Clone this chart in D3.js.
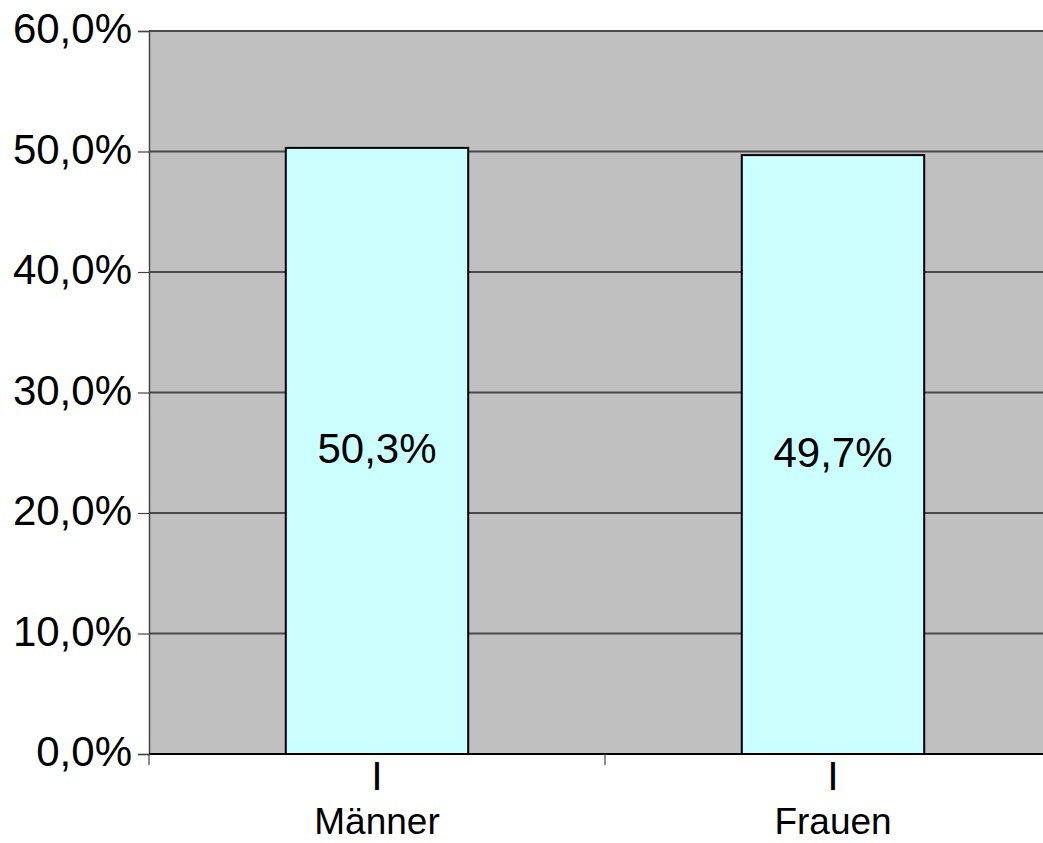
<!DOCTYPE html>
<html lang="de">
  <head>
    <meta charset="utf-8">
    <title>Männer / Frauen</title>
    <style>
      html, body { margin: 0; padding: 0; background: #fff; }
      svg { display: block; font-family: 'Liberation Sans', Arial, sans-serif; }
    </style>
  </head>
  <body>
    <svg width="1043" height="843"></svg>
    <script src="https://cdn.jsdelivr.net/npm/d3@7"></script>
    <script>
      // data
      const categories = ['Männer', 'Frauen'];
      const shares = [50.3, 49.7];
      const y_ticks = [0, 10, 20, 30, 40, 50, 60];

      const svg = d3.select('svg');
      const margin = {top: 31, left: 149, bottom: 754};
      const plot_right = 1061; // plot area runs past the window edge

      const fmt = v => v.toFixed(1).replace('.', ',') + '%';

      const x_scale = d3.scaleBand()
        .domain(categories)
        .range([margin.left, plot_right])
        .paddingInner(0.6)
        .paddingOuter(0.3);

      const y_scale = d3.scaleLinear()
        .domain([0, 60])
        .range([margin.bottom, margin.top]);

      // grey plot background
      svg.append('rect')
        .attr('x', margin.left)
        .attr('y', margin.top)
        .attr('width', plot_right - margin.left)
        .attr('height', margin.bottom - margin.top)
        .attr('fill', '#c0c0c0');

      // grid lines
      svg.append('g')
        .selectAll('line')
        .data(y_ticks.filter(d => d > 0))
        .enter()
        .append('line')
          .attr('x1', margin.left)
          .attr('x2', plot_right)
          .attr('y1', d => y_scale(d))
          .attr('y2', d => y_scale(d))
          .attr('stroke', '#4a4a4a')
          .attr('stroke-width', 1.8);

      // bars
      svg.append('g')
        .selectAll('rect')
        .data(shares)
        .enter()
        .append('rect')
          .attr('x', (d, i) => x_scale(categories[i]))
          .attr('y', d => y_scale(d))
          .attr('width', x_scale.bandwidth())
          .attr('height', d => y_scale(0) - y_scale(d))
          .attr('fill', '#ccffff')
          .attr('stroke', '#000')
          .attr('stroke-width', 2);

      // value labels inside bars
      svg.append('g')
        .selectAll('text')
        .data(shares)
        .enter()
        .append('text')
          .attr('x', (d, i) => x_scale(categories[i]) + x_scale.bandwidth() / 2)
          .attr('y', d => (y_scale(d) + y_scale(0)) / 2 + 12)
          .attr('text-anchor', 'middle')
          .attr('font-size', '42px')
          .attr('fill', '#000')
          .text(d => fmt(d));

      // y axis
      const y_axis = d3.axisLeft(y_scale)
        .tickValues(y_ticks)
        .tickSize(11)
        .tickPadding(6)
        .tickFormat(fmt);
      const y_axis_g = svg.append('g')
        .attr('transform', `translate(${margin.left},0)`)
        .call(y_axis);
      y_axis_g.select('.domain').attr('stroke', '#444').attr('stroke-width', 1.5);
      y_axis_g.selectAll('.tick line').attr('stroke', '#444').attr('stroke-width', 1.2);
      y_axis_g.selectAll('.tick text')
        .attr('font-size', '42px')
        .attr('font-family', "'Liberation Sans', Arial, sans-serif")
        .attr('fill', '#000')
        .attr('dy', '0.28em');

      // x axis line and band edge ticks
      svg.append('line')
        .attr('x1', margin.left)
        .attr('x2', plot_right)
        .attr('y1', margin.bottom)
        .attr('y2', margin.bottom)
        .attr('stroke', '#000')
        .attr('stroke-width', 2);
      svg.append('g')
        .selectAll('line')
        .data([0, 1])
        .enter()
        .append('line')
          .attr('x1', i => margin.left + i * x_scale.step())
          .attr('x2', i => margin.left + i * x_scale.step())
          .attr('y1', margin.bottom)
          .attr('y2', margin.bottom + 11)
          .attr('stroke', '#444')
          .attr('stroke-width', 1.2);

      // category labels (two lines: "I" then name)
      const cat_g = svg.append('g')
        .selectAll('text')
        .data(categories)
        .enter()
        .append('text')
          .attr('text-anchor', 'middle')
          .attr('font-size', '37px')
          .attr('fill', '#000');
      cat_g.append('tspan')
        .attr('x', d => x_scale(d) + x_scale.bandwidth() / 2)
        .attr('y', 790)
        .attr('font-size', '41px')
        .text('I');
      cat_g.append('tspan')
        .attr('x', d => x_scale(d) + x_scale.bandwidth() / 2)
        .attr('y', 834)
        .text(d => d);
    </script>
  </body>
</html>
